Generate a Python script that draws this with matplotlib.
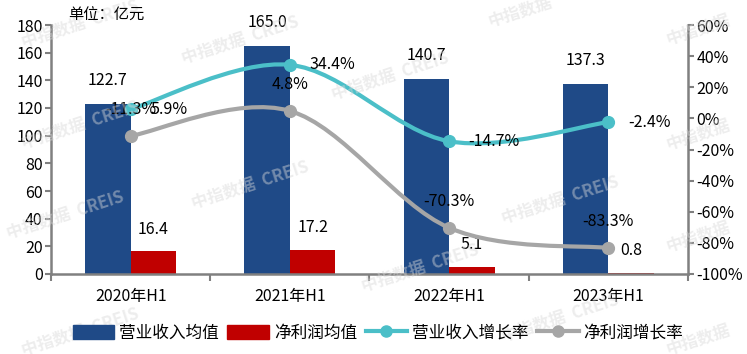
import numpy as np
import matplotlib.pyplot as plt
from matplotlib.path import Path
from matplotlib.patches import PathPatch, Patch
from matplotlib.lines import Line2D

plt.rcParams['font.family'] = ['Noto Sans CJK SC', 'DejaVu Sans']

# data
periods = ['2020年H1', '2021年H1', '2022年H1', '2023年H1']
revenue_avg = [122.7, 165.0, 140.7, 137.3]      # 亿元
profit_avg = [16.4, 17.2, 5.1, 0.8]             # 亿元
revenue_growth = [5.9, 34.4, -14.7, -2.4]       # %
profit_growth = [-11.3, 4.8, -70.3, -83.3]      # %

c_blue = '#1f4a87'
c_red = '#c00000'
c_cyan = '#4bbfc8'
c_gray = '#a6a6a6'
c_axis = '#808080'

fig = plt.figure(figsize=(7.47, 3.54), dpi=100)
ax = fig.add_axes([51 / 747, 80 / 354, 637 / 747, 249 / 354])

x = np.arange(len(periods))
w = 0.285
ax.bar(x - w / 2, revenue_avg, w, color=c_blue)
ax.bar(x + w / 2, profit_avg, w, color=c_red)

for xi, v in zip(x - w / 2, revenue_avg):
    ax.annotate(f'{v:.1f}', (xi, v), xytext=(0, 17), textcoords='offset points',
                ha='center', va='center', fontsize=11.5)
for xi, v in zip(x + w / 2, profit_avg):
    ax.annotate(f'{v:.1f}', (xi, v), xytext=(0, 16), textcoords='offset points',
                ha='center', va='center', fontsize=11.5)

ax.set_xlim(-0.5, 3.5)
ax.set_ylim(0, 180)
ax.set_yticks(range(0, 181, 20))
ax.set_xticks(x)
ax.set_xticklabels(periods)
ax.set_xticks(np.arange(-0.5, 4, 1), minor=True)
ax.tick_params(axis='x', which='major', length=0, labelsize=11.5, pad=10)
ax.tick_params(axis='x', which='minor', length=5, width=1.5, color=c_axis)
ax.tick_params(axis='y', length=4, width=1.5, color=c_axis, labelsize=11.5, pad=2)
for s in ['top', 'right']:
    ax.spines[s].set_visible(False)
for s in ['left', 'bottom']:
    ax.spines[s].set_color(c_axis)
    ax.spines[s].set_linewidth(1.8)

ax2 = ax.twinx()
ax2.set_ylim(-100, 60)
ax2.set_yticks(range(-100, 61, 20))
ax2.set_yticklabels([f'{v}%' for v in range(-100, 61, 20)])
ax2.tick_params(axis='y', length=4, width=1.5, color=c_axis, labelsize=11.5, pad=2)
for s in ['top', 'left', 'bottom']:
    ax2.spines[s].set_visible(False)
ax2.spines['right'].set_color(c_axis)
ax2.spines['right'].set_linewidth(1.8)


def smooth_path(xs, ys):
    # Catmull-Rom style bezier through the points (like Excel smoothed lines)
    pts = np.column_stack([xs, ys]).astype(float)
    ext = np.vstack([pts[0], pts, pts[-1]])
    verts = [pts[0]]
    codes = [Path.MOVETO]
    for i in range(len(pts) - 1):
        p0, p1, p2, p3 = ext[i], ext[i + 1], ext[i + 2], ext[i + 3]
        verts += [p1 + (p2 - p0) / 6, p2 - (p3 - p1) / 6, p2]
        codes += [Path.CURVE4] * 3
    return Path(verts, codes)


for ys, col in [(revenue_growth, c_cyan), (profit_growth, c_gray)]:
    ax2.add_patch(PathPatch(smooth_path(x, ys), fill=False, edgecolor=col,
                            lw=3, capstyle='round', joinstyle='round', zorder=3))
    ax2.plot(x, ys, 'o', color=col, ms=8.5, zorder=4)

for xi, v in zip(x, revenue_growth):
    ax2.annotate(f'{v:.1f}%', (xi, v), xytext=(14, 0), textcoords='offset points',
                 ha='left', va='center', fontsize=11.5, zorder=5)
for xi, v in zip(x, profit_growth):
    ax2.annotate(f'{v:.1f}%', (xi, v), xytext=(0, 19), textcoords='offset points',
                 ha='center', va='center', fontsize=11.5, zorder=5)

fig.text(68 / 747, 1 - 15 / 354, '单位：亿元', ha='left', va='center', fontsize=11)

# watermark
wm = [(80, 24, '中指数据  CREIS'), (240, 40, '中指数据  CREIS'), (390, 76, '中指数据  CREIS'),
      (80, 125, '中指数据  CREIS'), (560, 200, '中指数据  CREIS'), (65, 215, '中指数据  CREIS'),
      (420, 268, '中指数据  CREIS'), (80, 332, '中指数据  CREIS'), (560, 318, '中指数据  CREIS'),
      (698, 30, '中指数据'), (698, 135, '中指数据'), (698, 237, '中指数据'), (698, 340, '中指数据'),
      (520, 12, '中指数据'), (250, 185, '中指数据  CREIS')]
for px, py, t in wm:
    fig.text(px / 747, 1 - py / 354, t, ha='center', va='center', fontsize=12,
             color='#d8d8d8', alpha=0.45, rotation=18, fontweight='bold', zorder=0)

handles = [Patch(color=c_blue), Patch(color=c_red),
           Line2D([], [], color=c_cyan, lw=3, marker='o', ms=8),
           Line2D([], [], color=c_gray, lw=3, marker='o', ms=8)]
labels = ['营业收入均值', '净利润均值', '营业收入增长率', '净利润增长率']
fig.legend(handles, labels, loc='center', bbox_to_anchor=(378 / 747, 1 - 333 / 354),
           ncol=4, frameon=False, fontsize=12, handlelength=2.5, handleheight=0.9,
           handletextpad=0.3, columnspacing=0.5)

fig.savefig('out.png', dpi=100)
